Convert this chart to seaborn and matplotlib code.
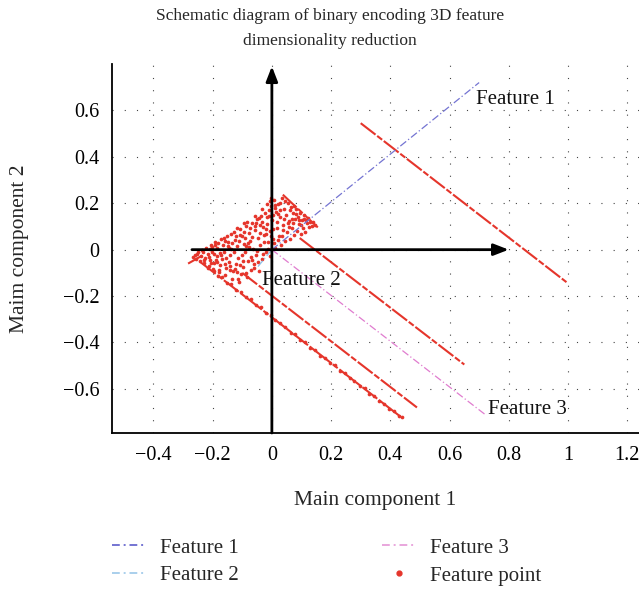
import matplotlib
matplotlib.use("Agg")
import matplotlib.pyplot as plt
from matplotlib.lines import Line2D
import seaborn as sns
import pandas as pd

# ---------------- data ----------------
title = "Schematic diagram of binary encoding 3D feature\ndimensionality reduction"
x_label = "Main component 1"
y_label = "Maim component 2"
x_ticks = [-0.4, -0.2, 0, 0.2, 0.4, 0.6, 0.8, 1.0, 1.2]
x_tick_labels = ["\u22120.4", "\u22120.2", "0", "0.2", "0.4", "0.6", "0.8", "1", "1.2"]
y_ticks = [-0.6, -0.4, -0.2, 0, 0.2, 0.4, 0.6]
y_tick_labels = ["\u22120.6", "\u22120.4", "\u22120.2", "0", "0.2", "0.4", "0.6"]

# feature axes (start -> end)
feature1_x = [0.0, 0.70]
feature1_y = [0.0, 0.72]
feature2_x = [0.0, -0.047]
feature2_y = [0.0, -0.073]
feature3_x = [0.0, 0.72]
feature3_y = [0.0, -0.71]
feature_labels = ["Feature 1", "Feature 2", "Feature 3"]
feature_label_x = [0.69, -0.035, 0.73]
feature_label_y = [0.645, -0.135, -0.69]
legend_labels = ["Feature 1", "Feature 2", "Feature 3", "Feature point"]

# black coordinate arrows
harrow_x = [-0.27, 0.80]
varrow_y = [-0.79, 0.79]

# streaks of feature points (start -> end)
streak_x0 = [0.30, 0.037, 0.094, -0.10, -0.24, -0.283]
streak_y0 = [0.545, 0.237, 0.050, -0.10, -0.055, -0.060]
streak_x1 = [0.995, 0.160, 0.650, 0.49, 0.44, -0.236]
streak_y1 = [-0.140, 0.090, -0.495, -0.68, -0.725, -0.026]

# scattered feature points (cloud)
cloud_x = [-0.268, -0.261, -0.255, -0.249, -0.243, -0.238, -0.236, -0.229, -0.226, -0.221,
           -0.217, -0.212, -0.209, -0.205, -0.201, -0.198, -0.194, -0.191, -0.187, -0.184,
           -0.179, -0.176, -0.172, -0.169, -0.166, -0.162, -0.158, -0.155, -0.152, -0.148,
           -0.145, -0.141, -0.138, -0.134, -0.131, -0.127, -0.124, -0.121, -0.117, -0.114,
           -0.110, -0.107, -0.104, -0.100, -0.097, -0.094, -0.090, -0.087, -0.084, -0.080,
           -0.077, -0.074, -0.070, -0.067, -0.064, -0.060, -0.057, -0.054, -0.050, -0.047,
           -0.044, -0.040, -0.037, -0.034, -0.031, -0.027, -0.024, -0.021, -0.018, -0.014,
           -0.011, -0.008, -0.005, -0.002, 0.002, 0.005, 0.008, 0.011, 0.014, 0.017,
           0.021, 0.024, 0.027, 0.031, 0.034, 0.037, 0.041, 0.044, 0.048, 0.051,
           0.055, 0.058, 0.062, 0.065, 0.069, 0.072, 0.076, 0.079, 0.083, 0.086,
           0.090, 0.094, 0.097, 0.101, 0.105, 0.109, 0.113, 0.117, 0.121, 0.125,
           0.129, 0.134, 0.139, 0.144,
           -0.252, -0.233, -0.214, -0.203, -0.189, -0.181, -0.171, -0.163, -0.154, -0.146,
           -0.137, -0.129, -0.119, -0.112, -0.102, -0.093, -0.083, -0.076, -0.066, -0.058,
           -0.049, -0.041, -0.033, -0.026, -0.016, -0.007, 0.003, 0.012, 0.019, 0.029,
           0.039, 0.046, 0.053, 0.067, 0.074, 0.088, 0.099, 0.107, -0.142, -0.126,
           -0.113, -0.098, -0.088, -0.072, -0.062, -0.046, -0.029, -0.012, 0.006, -0.003,
           -0.021, -0.039, -0.056, -0.073, -0.091, -0.108, -0.133, -0.160, -0.177, -0.195,
           -0.210, -0.002, 0.004, 0.016, 0.026, 0.061,
           -0.186, -0.174, -0.157, -0.143, -0.122, -0.106, -0.095, -0.079, -0.068, -0.052,
           -0.035, -0.019, -0.009, 0.009, 0.022, 0.033, 0.057, 0.071, 0.082, 0.116,
           -0.228, -0.207, -0.192, -0.149, -0.118, -0.086, -0.043, -0.015, 0.042, 0.093]
cloud_y = [-0.031, -0.022, -0.041, -0.012, -0.048, -0.027, -0.003, -0.058, -0.035, 0.008,
           -0.019, -0.071, -0.044, 0.021, -0.008, -0.083, -0.056, 0.033, -0.029, 0.006,
           -0.097, -0.068, 0.047, -0.041, 0.018, -0.012, -0.109, -0.079, 0.061, 0.031,
           -0.052, -0.021, 0.004, -0.128, -0.093, 0.074, 0.042, -0.063, 0.015, -0.034,
           -0.141, 0.089, -0.107, 0.057, -0.076, 0.026, -0.009, 0.103, -0.119, -0.047,
           0.071, 0.038, -0.088, 0.116, 0.003, -0.061, 0.084, -0.024, 0.131, 0.052,
           -0.092, 0.019, 0.143, -0.039, 0.098, 0.064, 0.157, -0.011, 0.112, 0.034,
           0.171, 0.079, -0.028, 0.186, 0.127, 0.048, 0.213, 0.009, 0.162, 0.094,
           0.198, 0.061, 0.139, 0.021, 0.222, 0.107, 0.176, 0.038, 0.151, 0.076,
           0.203, 0.124, 0.047, 0.185, 0.092, 0.158, 0.063, 0.134, 0.176, 0.081,
           0.112, 0.156, 0.067, 0.128, 0.094, 0.148, 0.078, 0.117, 0.137, 0.096,
           0.121, 0.104, 0.118, 0.107,
           -0.020, -0.011, -0.032, 0.012, -0.043, 0.027, -0.022, 0.052, -0.036, 0.009,
           0.068, -0.011, 0.093, 0.036, -0.021, 0.077, 0.121, 0.012, 0.056, 0.147,
           -0.006, 0.108, 0.176, 0.031, 0.141, 0.209, 0.087, 0.192, 0.041, 0.171,
           0.084, 0.209, 0.113, 0.134, 0.189, 0.142, 0.106, 0.131, -0.071, -0.083,
           -0.128, -0.048, -0.101, -0.031, -0.079, -0.055, -0.017, 0.002, 0.027, 0.061,
           0.089, 0.071, 0.104, 0.094, 0.052, 0.063, 0.027, -0.061, -0.086, -0.018,
           0.002, 0.224, 0.151, 0.118, 0.203, 0.171,
           -0.052, -0.014, 0.038, -0.087, 0.058, -0.068, 0.113, 0.027, -0.044, 0.117,
           0.121, 0.066, 0.143, 0.181, 0.152, 0.059, 0.098, 0.113, 0.152, 0.128,
           -0.046, -0.059, 0.021, 0.016, -0.097, 0.016, 0.136, 0.196, 0.131, 0.127]

# scattered band of feature points along the lowest streak
band_x = [-0.215, -0.196, -0.183, -0.168, -0.151, -0.137, -0.120, -0.104, -0.088, -0.071,
          -0.055, -0.038, -0.021, -0.004, 0.012, 0.029, 0.046, 0.063, 0.079, 0.096,
          0.113, 0.129, 0.146, 0.163, 0.179, 0.196, 0.213, 0.229, 0.246, 0.263,
          0.279, 0.296, 0.313, 0.329, 0.346, 0.363, 0.379, 0.396, 0.413, 0.429, 0.440]
band_y = [-0.081, -0.092, -0.115, -0.119, -0.142, -0.148, -0.172, -0.181, -0.205, -0.212,
          -0.239, -0.247, -0.271, -0.282, -0.301, -0.316, -0.332, -0.357, -0.365, -0.391,
          -0.399, -0.424, -0.432, -0.458, -0.466, -0.490, -0.497, -0.523, -0.532, -0.555,
          -0.566, -0.588, -0.597, -0.621, -0.631, -0.653, -0.664, -0.686, -0.697, -0.718, -0.722]

# ---------------- style ----------------
sns.set_style("white")
plt.rcParams["font.family"] = ["Liberation Serif", "DejaVu Serif"]
plt.rcParams["axes.unicode_minus"] = True

RED = "#e5352b"
C1 = "#7474d2"
C2 = "#8fc3ea"
C3 = "#e07ccf"
DASHDOT = (0, (6, 2, 1, 2))

fig = plt.figure(figsize=(6.39, 5.91), dpi=100)
ax = fig.add_axes([112 / 639, 1 - 433 / 591, 1 - 112 / 639, (433 - 64) / 591])

ax.set_xlim(-0.54, 1.24)
ax.set_ylim(-0.79, 0.80)

# grid (dotted)
for xt in x_ticks:
    ax.axvline(xt, color="#444444", lw=0.8, linestyle=(0, (1, 10)), zorder=0)
for yt in y_ticks:
    ax.axhline(yt, color="#444444", lw=0.8, linestyle=(0, (1, 10)), zorder=0)

# streaks of feature points
for i in range(len(streak_x0)):
    ax.plot([streak_x0[i], streak_x1[i]], [streak_y0[i], streak_y1[i]],
            color=RED, lw=1.5, linestyle=(0, (9, 1.0, 3, 1.0)), zorder=2)

pts = pd.DataFrame({"x": cloud_x + band_x, "y": cloud_y + band_y})
sns.scatterplot(data=pts, x="x", y="y", ax=ax, color=RED, s=7, linewidth=0,
                zorder=3, legend=False)

# feature axes
for fx, fy, col in [(feature1_x, feature1_y, C1),
                    (feature2_x, feature2_y, C2),
                    (feature3_x, feature3_y, C3)]:
    sns.lineplot(x=fx, y=fy, ax=ax, color=col, lw=0.9, linestyle=DASHDOT,
                 zorder=4, legend=False)

# black arrows
ax.annotate("", xy=(harrow_x[1], 0), xytext=(harrow_x[0], 0),
            arrowprops=dict(arrowstyle="-|>,head_length=0.9,head_width=0.35",
                            color="black", lw=2, shrinkA=0, shrinkB=0), zorder=5)
ax.annotate("", xy=(0, varrow_y[1]), xytext=(0, varrow_y[0]),
            arrowprops=dict(arrowstyle="-|>,head_length=0.9,head_width=0.35",
                            color="black", lw=2, shrinkA=0, shrinkB=0), zorder=5)

for lab, lx, ly in zip(feature_labels, feature_label_x, feature_label_y):
    ax.text(lx, ly, lab, fontsize=15, va="center", ha="left", color="#111111", zorder=6)

# axes styling
ax.set_xticks(x_ticks)
ax.set_xticklabels(x_tick_labels)
ax.set_yticks(y_ticks)
ax.set_yticklabels(y_tick_labels)
ax.tick_params(axis="both", direction="out", length=5, width=1.6, labelsize=14.5,
               colors="black", pad=4)
ax.grid(False)
for s in ["top", "right"]:
    ax.spines[s].set_visible(False)
for s in ["left", "bottom"]:
    ax.spines[s].set_color("black")
    ax.spines[s].set_linewidth(1.3)

ax.set_xlabel(x_label, fontsize=15.5, va="center")
ax.set_ylabel(y_label, fontsize=15.5, va="center")
ax.xaxis.set_label_coords(0.499, (433 - 500) / 369)
ax.yaxis.set_label_coords((20 - 112) / 527, 0.5)
fig.suptitle(title, fontsize=12.5, x=(330 / 639), y=0.986, va="top", linespacing=1.75)

# legend (separate proxy handles)
leg_handles = [Line2D([], [], color=C1, lw=1.4, linestyle=(0, (4, 2, 1, 2))),
               Line2D([], [], color="#a9cfec", lw=1.4, linestyle=(0, (4, 2, 1, 2))),
               Line2D([], [], color="#e9a6dd", lw=1.4, linestyle=(0, (4, 2, 1, 2))),
               Line2D([], [], color=RED, marker="o", markersize=3.5, linestyle="none")]
fig.legend(leg_handles, legend_labels, ncol=2,
           loc="upper left", bbox_to_anchor=(112 / 639, 1 - 538 / 591),
           borderaxespad=0, borderpad=0,
           frameon=False, fontsize=15, handlelength=1.6, handletextpad=0.7,
           columnspacing=6.9, labelspacing=0.4)

fig.savefig("out.png", dpi=100)
